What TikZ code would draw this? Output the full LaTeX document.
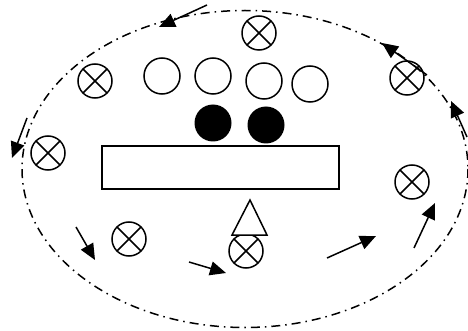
\documentclass[tikz,border=0pt]{standalone}
\usetikzlibrary{arrows.meta}
\tikzset{
  base/.style={line width=1.5pt},
  otimesbox/.style={base, draw, circle, minimum size=34pt, inner sep=0pt,
    path picture={\draw[base] (path picture bounding box.north west) -- (path picture bounding box.south east)
                   (path picture bounding box.north east) -- (path picture bounding box.south west);}},
  opencirc/.style={base, draw, circle, minimum size=36pt, inner sep=0pt},
  filledcirc/.style={circle, fill=black, minimum size=37pt, inner sep=0pt},
  motion/.style={line width=1.5pt, -{Triangle[length=16pt,width=14pt]}},
  orbit/.style={line width=1.5pt, dash pattern=on 9pt off 5pt on 1.5pt off 5pt}
}
\begin{document}
\begin{tikzpicture}[x=1pt,y=-1pt]
\useasboundingbox (0,0) rectangle (468,331);
% orbit ellipse
\draw[orbit] (245,169) ellipse [x radius=223, y radius=158.5];
% rectangle
\node[base, draw, minimum width=237pt, minimum height=43pt, inner sep=0pt] (bar) at (220.5,167.5) {};
% open circles
\node[opencirc] (o1) at (162,76) {};
\node[opencirc] (o2) at (213,76) {};
\node[opencirc] (o3) at (264,81) {};
\node[opencirc] (o4) at (310,84) {};
% filled circles
\node[filledcirc] (f1) at (213,123) {};
\node[filledcirc] (f2) at (266,125) {};
% crossed circles
\node[otimesbox] (x1) at (259,33) {};
\node[otimesbox] (x2) at (95,81) {};
\node[otimesbox] (x3) at (407,78) {};
\node[otimesbox] (x4) at (48,153) {};
\node[otimesbox] (x5) at (412,182) {};
\node[otimesbox] (x6) at (129,239) {};
\node[otimesbox] (x7) at (246,251) {};
% triangle
\draw[base, fill=white] (232,235) -- (250,200) -- (267,235) -- cycle;
% arrows
\coordinate (a1s) at (207,5);   \coordinate (a1e) at (159,27);
\coordinate (a2s) at (27,118);  \coordinate (a2e) at (12,158);
\coordinate (a3s) at (427,75);  \coordinate (a3e) at (382,43);
\coordinate (a4s) at (467,137); \coordinate (a4e) at (451,101);
\coordinate (a5s) at (76,227);  \coordinate (a5e) at (95,260);
\coordinate (a6s) at (189,262); \coordinate (a6e) at (226,273);
\coordinate (a7s) at (327,258); \coordinate (a7e) at (376,236);
\coordinate (a8s) at (414,248); \coordinate (a8e) at (435,203);
\draw[motion] (a1s) -- (a1e);
\draw[motion] (a2s) -- (a2e);
\draw[motion] (a3s) -- (a3e);
\draw[motion] (a4s) -- (a4e);
\draw[motion] (a5s) -- (a5e);
\draw[motion] (a6s) -- (a6e);
\draw[motion] (a7s) -- (a7e);
\draw[motion] (a8s) -- (a8e);
\end{tikzpicture}
\end{document}
